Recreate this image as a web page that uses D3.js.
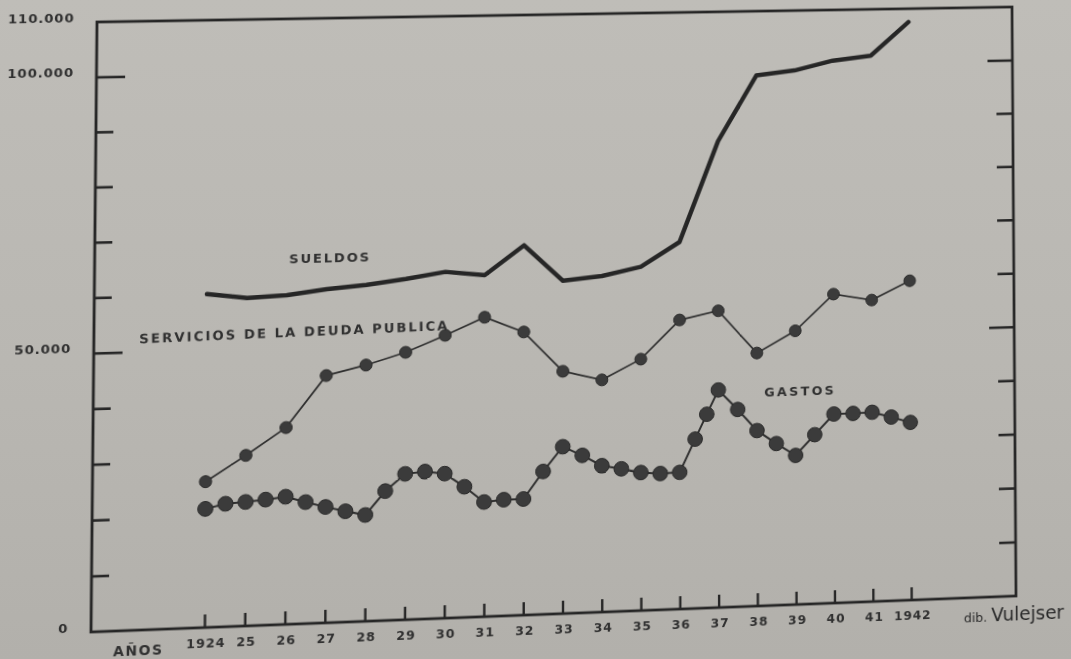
<!DOCTYPE html>
<html>
<head>
<meta charset="utf-8">
<script src="https://cdn.jsdelivr.net/npm/d3@7"></script>
<style>
  html, body { margin: 0; padding: 0; width: 1071px; height: 659px; overflow: hidden; }
  body { background: linear-gradient(180deg, #bfbdb8 0%, #b9b7b2 55%, #b2b0ab 100%); }
  #sheet { position: absolute; left: 0; top: 0; transform-origin: 0 0; }
  text { font-family: "DejaVu Sans", sans-serif; }
</style>
</head>
<body>
<div id="sheet"></div>
<script>
// ---- data -------------------------------------------------------------
const years = [1924, 1925, 1926, 1927, 1928, 1929, 1930, 1931, 1932, 1933,
               1934, 1935, 1936, 1937, 1938, 1939, 1940, 1941, 1942];
const yearLabels = ["1924", "25", "26", "27", "28", "29", "30", "31", "32", "33",
                    "34", "35", "36", "37", "38", "39", "40", "41", "1942"];

// Sueldos
const sueldos = [60100, 59200, 59500, 60400, 61000, 61900, 63000, 62200, 67500, 60800,
                 61500, 63000, 67400, 85900, 98000, 98800, 100500, 101300, 107500];

// Servicios de la deuda publica
const servicios = [26200, 30700, 35500, 44700, 46400, 48500, 51400, 54500, 51600, 44200,
                   42400, 46000, 53000, 54500, 46500, 50400, 57000, 55700, 59100];

// Gastos, recorded every half year (two extra readings during 1936)
const gastosDates = [1924, 1924.5, 1925, 1925.5, 1926, 1926.5, 1927, 1927.5, 1928, 1928.5,
                     1929, 1929.5, 1930, 1930.5, 1931, 1931.5, 1932, 1932.5, 1933, 1933.5,
                     1934, 1934.5, 1935, 1935.5, 1936, 1936.4, 1936.7, 1937, 1937.5, 1938,
                     1938.5, 1939, 1939.5, 1940, 1940.5, 1941, 1941.5, 1942];
const gastos = [21300, 22100, 22300, 22600, 23000, 21900, 20900, 20000, 19200, 23400,
                26400, 26700, 26200, 23700, 20800, 21100, 21100, 26000, 30400, 28700,
                26700, 26000, 25200, 24900, 25000, 31000, 35500, 39900, 36200, 32200,
                29700, 27400, 31100, 34800, 34800, 34900, 33900, 32800];

const yTickValues = [10000, 20000, 30000, 40000, 50000, 60000, 70000, 80000, 90000, 100000];
const yLongTicks = [50000, 100000];
const yLabelValues = [0, 50000, 100000, 110000];
const yLabelText = ["0", "50.000", "100.000", "110.000"];

// ---- layout -------------------------------------------------------------
const W = 925, H = 610;          // plotting frame
const ml = 120, mt = 40;         // room for labels around the frame
const svgW = 1110, svgH = 700;

// where the frame's corners sit on the sheet (TL, TR, BR, BL)
const quad = [[97, 22], [1012, 7], [1016, 596], [91, 632]];

function squareToQuad(p) {
  const [x0, y0] = p[0], [x1, y1] = p[1], [x2, y2] = p[2], [x3, y3] = p[3];
  const dx1 = x1 - x2, dx2 = x3 - x2, dx3 = x0 - x1 + x2 - x3;
  const dy1 = y1 - y2, dy2 = y3 - y2, dy3 = y0 - y1 + y2 - y3;
  const den = dx1 * dy2 - dx2 * dy1;
  const g = (dx3 * dy2 - dx2 * dy3) / den;
  const h = (dx1 * dy3 - dx3 * dy1) / den;
  return {
    a: x1 - x0 + g * x1, b: x3 - x0 + h * x3, c: x0,
    d: y1 - y0 + g * y1, e: y3 - y0 + h * y3, f: y0, g, h
  };
}
const q = squareToQuad(quad);
const A = q.a / W, B = q.b / H, C = q.c - q.a * ml / W - q.b * mt / H;
const D = q.d / W, E = q.e / H, F = q.f - q.d * ml / W - q.e * mt / H;
const G = q.g / W, Hh = q.h / H, I = 1 - q.g * ml / W - q.h * mt / H;
const m3d = [A, D, 0, G, B, E, 0, Hh, 0, 0, 1, 0, C, F, 0, I];

d3.select("#sheet").style("transform", `matrix3d(${m3d.join(",")})`);

const svg = d3.select("#sheet").append("svg")
  .attr("width", svgW).attr("height", svgH);

const g = svg.append("g").attr("transform", `translate(${ml},${mt})`);

const x = d3.scaleLinear().domain([1924, 1942]).range([110, 817]);
const y = d3.scaleLinear().domain([0, 110000]).range([H, 0]);

const ink = "#262626";
const textInk = "#303030";

// ---- frame --------------------------------------------------------------
g.append("rect")
  .attr("x", 0).attr("y", 0).attr("width", W).attr("height", H)
  .attr("fill", "none").attr("stroke", ink).attr("stroke-width", 2.8);

// left ticks, pointing inward
const leftAxis = g.append("g")
  .call(d3.axisRight(y).tickValues(yTickValues).tickSize(17).tickFormat(""));
leftAxis.select(".domain").remove();
leftAxis.selectAll(".tick line")
  .attr("stroke", ink).attr("stroke-width", 2.6)
  .attr("x2", d => yLongTicks.includes(d) ? 28 : 17);

// right ticks, pointing inward
const rightAxis = g.append("g").attr("transform", `translate(${W},0)`)
  .call(d3.axisLeft(y).tickValues(yTickValues).tickSize(17).tickFormat(""));
rightAxis.select(".domain").remove();
rightAxis.selectAll(".tick line")
  .attr("stroke", ink).attr("stroke-width", 2.6)
  .attr("x2", d => yLongTicks.includes(d) ? -26 : -17);

// year ticks on the base line
const bottomAxis = g.append("g").attr("transform", `translate(0,${H})`)
  .call(d3.axisTop(x).tickValues(years).tickSize(13).tickFormat(""));
bottomAxis.select(".domain").remove();
bottomAxis.selectAll(".tick line").attr("stroke", ink).attr("stroke-width", 2.4);

// y labels
g.selectAll("text.ylab").data(yLabelValues).join("text")
  .attr("class", "ylab")
  .attr("x", -22).attr("y", d => y(d) - 5)
  .attr("dy", "0.35em")
  .attr("text-anchor", "end")
  .attr("font-size", 13).attr("font-weight", "bold")
  .attr("letter-spacing", 0.8)
  .attr("fill", textInk)
  .text((d, i) => yLabelText[i]);

// year labels
g.selectAll("text.xlab").data(years).join("text")
  .attr("class", "xlab")
  .attr("x", d => x(d) + 1.5).attr("y", H + 20)
  .attr("text-anchor", "middle")
  .attr("font-size", 12.5).attr("font-weight", "bold")
  .attr("letter-spacing", 0.9)
  .attr("fill", textInk)
  .text((d, i) => yearLabels[i]);

g.append("text")
  .attr("x", 46).attr("y", H + 25)
  .attr("text-anchor", "middle")
  .attr("font-size", 13.5).attr("font-weight", "bold")
  .attr("letter-spacing", 1.5)
  .attr("fill", textInk)
  .text("AÑOS");

const sig = g.append("text")
  .attr("x", 871).attr("y", H + 25)
  .attr("font-size", 19)
  .attr("fill", "#2a2a2a");
sig.append("tspan").attr("font-size", 13).text("dib. ");
sig.append("tspan").text("Vulejser");

// ---- series -------------------------------------------------------------
const line = d3.line().x(d => x(d[0])).y(d => y(d[1]));

// Sueldos: heavy line without markers
g.append("path")
  .datum(years.map((yr, i) => [yr, sueldos[i]]))
  .attr("d", line)
  .attr("fill", "none").attr("stroke", ink)
  .attr("stroke-width", 4.5).attr("stroke-linejoin", "round").attr("stroke-linecap", "round");

// Servicios de la deuda publica: thin line with small dots
const servData = years.map((yr, i) => [yr, servicios[i]]);
g.append("path")
  .datum(servData)
  .attr("d", line)
  .attr("fill", "none").attr("stroke", "#2e2e2e").attr("stroke-width", 1.7);
g.selectAll("circle.serv").data(servData).join("circle")
  .attr("class", "serv")
  .attr("cx", d => x(d[0])).attr("cy", d => y(d[1]))
  .attr("r", 6)
  .attr("fill", "#3b3b3b").attr("stroke", "#2a2a2a").attr("stroke-width", 1);

// Gastos: larger dots, every half year
const gastData = gastosDates.map((t, i) => [t, gastos[i]]);
g.append("path")
  .datum(gastData)
  .attr("d", line)
  .attr("fill", "none").attr("stroke", "#2e2e2e").attr("stroke-width", 2);
g.selectAll("circle.gast").data(gastData).join("circle")
  .attr("class", "gast")
  .attr("cx", d => x(d[0])).attr("cy", d => y(d[1]))
  .attr("r", 7.4)
  .attr("fill", "#3b3b3b").attr("stroke", "#2a2a2a").attr("stroke-width", 1);

// ---- series names -------------------------------------------------------
const nameStyle = sel => sel
  .attr("text-anchor", "middle")
  .attr("font-size", 13).attr("font-weight", "bold")
  .attr("fill", textInk);

g.append("text").call(nameStyle)
  .attr("x", 231).attr("y", 248)
  .attr("letter-spacing", 1.8)
  .text("SUELDOS");

g.append("text").call(nameStyle)
  .attr("transform", "translate(197,322) rotate(-0.9)")
  .attr("letter-spacing", 2.0)
  .text("SERVICIOS DE LA DEUDA PUBLICA");

g.append("text").call(nameStyle)
  .attr("x", 704).attr("y", 397)
  .attr("letter-spacing", 2.4)
  .text("GASTOS");
</script>
</body>
</html>
